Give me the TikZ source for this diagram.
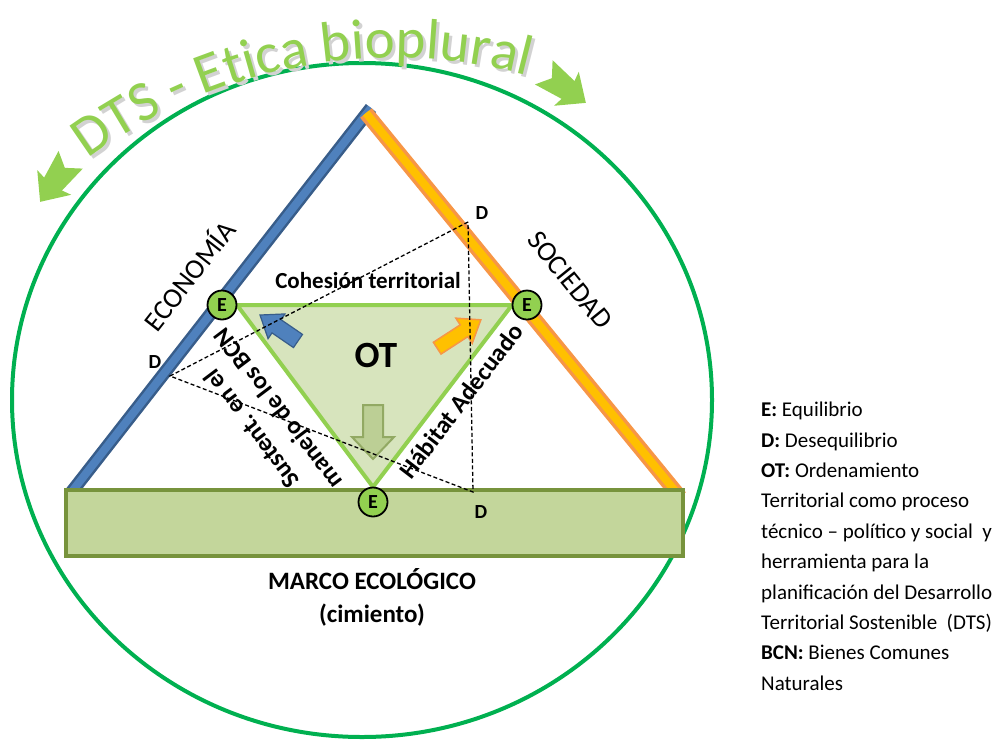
\documentclass[tikz,border=0pt]{standalone}
\usepackage{fontspec}
\setmainfont{Carlito}
\usetikzlibrary{decorations.text}

\definecolor{ringgreen}{HTML}{00B050}
\definecolor{titlegreen}{HTML}{92D050}
\definecolor{barblue}{HTML}{4F81BD}
\definecolor{bluedark}{HTML}{385D8A}
\definecolor{barorange}{HTML}{FFC000}
\definecolor{orangedark}{HTML}{F79646}
\definecolor{basefill}{HTML}{C3D69B}
\definecolor{basedraw}{HTML}{77933C}
\definecolor{trifill}{HTML}{D7E4BD}

\tikzset{
  elabel/.style={circle, draw=black, line width=1.8pt, fill=titlegreen, minimum size=29pt, inner sep=0pt, font=\fontsize{20}{20}\selectfont\bfseries},
  dlabel/.style={font=\fontsize{20}{20}\selectfont\bfseries, inner sep=0pt},
  axislabel/.style={font=\fontsize{28}{28}\selectfont, inner sep=0pt},
  sidelabel/.style={font=\fontsize{25}{33}\selectfont\bfseries, align=center, inner sep=0pt},
  legend/.style={font=\fontsize{21}{30.4}\selectfont, align=left, inner sep=0pt},
  dashline/.style={black, line width=1.3pt, dash pattern=on 4pt off 2.5pt},
  notcharrow/.pic={\fill[titlegreen] (27,0)--(3,-21)--(5,-11)--(-25,-15)--(-15,0)--(-25,15)--(5,11)--(3,21)--cycle;}
}

\begin{document}
\begin{tikzpicture}[x=1pt,y=-1pt]
\useasboundingbox (0,0) rectangle (1000,742);

%ring
\draw[ringgreen, line width=4pt] (362,400) ellipse [x radius=350, y radius=337];

%title
\path[decorate, decoration={text along path, text align=center,
  text={|\fontsize{57}{57}\selectfont\color{gray!35}|DTS -{\ }Etica bioplural}}]
  (398,579) ++(-131:518) arc[start angle=-131, end angle=-70.6, radius=518];
\path[decorate, decoration={text along path, text align=center,
  text={|\fontsize{57}{57}\selectfont\color{titlegreen}|DTS -{\ }Etica bioplural}}]
  (395,576) ++(-131:518) arc[start angle=-131, end angle=-70.6, radius=518];

\pic[rotate=234] at (56,180) {notcharrow};
\pic[rotate=-36] at (564,87) {notcharrow};

%bars
\draw[bluedark, line width=13pt] (70,494)--(371,108);
\draw[barblue, line width=8pt] (70,494)--(371,108);
\draw[orangedark, line width=15pt] (366,113)--(680,497);
\draw[barorange, line width=8pt] (366,113)--(680,497);

%base
\draw[basedraw, fill=basefill, line width=4pt] (66,490) rectangle (683,556);
\node[sidelabel] (marco) at (372,597) {MARCO ECOLÓGICO\\(cimiento)};

%OT triangle
\coordinate (tL) at (237,305);
\coordinate (tR) at (512,305);
\coordinate (tB) at (373,487);
\draw[titlegreen, fill=trifill, line width=4pt, line join=round] (tL)--(tR)--(tB)--cycle;

%arrows
\begin{scope}[shift={(279,328)}, rotate=145.6]
\draw[bluedark, fill=barblue, line width=1.2pt] (23,0)--(3,15)--(3,8)--(-23,8)--(-23,-8)--(3,-8)--(3,-15)--cycle;
\end{scope}
\begin{scope}[shift={(459,334)}, rotate=33]
\draw[orangedark, fill=barorange, line width=1.5pt] (26,0)--(6,15)--(6,7)--(-26,7)--(-26,-7)--(6,-7)--(6,-15)--cycle;
\end{scope}
\begin{scope}[shift={(373,432)}, rotate=-90]
\draw[basedraw!80, fill=basefill!80!basedraw, fill opacity=0.75, line width=2pt] (27,0)--(5,21)--(5,10)--(-27,10)--(-27,-10)--(5,-10)--(5,-21)--cycle;
\end{scope}

%D
\coordinate (dT) at (468,222);
\coordinate (dL) at (170,376);
\coordinate (dB) at (473,492);
\draw[dashline] (dT)--(dL)--(dB)--cycle;
\node[dlabel] (dTl) at (482,213) {D};
\node[dlabel] (dLl) at (155,362) {D};
\node[dlabel] (dBl) at (481,512) {D};

%texts
\node[axislabel, rotate=52] (econ) at (188,275) {ECONOMÍA};
\node[axislabel, rotate=-51] (soc) at (570,280) {SOCIEDAD};
\node[font=\fontsize{23}{23}\selectfont\bfseries, inner sep=0pt] (cohes) at (368,281) {Cohesión territorial};
\node[font=\fontsize{37}{37}\selectfont\bfseries, inner sep=0pt] (ot) at (376,355) {OT};
\node[sidelabel, rotate=127] (bcn) at (266,418) {Sustent. en el\\manejo de los BCN};
\node[sidelabel, rotate=52.5] (habitat) at (461,401) {Hábitat Adecuado};

%E
\node[elabel] (eL) at (222,305) {E};
\node[elabel] (eR) at (527,305) {E};
\node[elabel] (eB) at (373,502) {E};

%legend
\node[legend, anchor=north west] (leg) at (761,402) {\textbf{E:} Equilibrio\\
\textbf{D:} Desequilibrio\\
\textbf{OT:} Ordenamiento\\
Territorial como proceso\\
técnico – político y social {\ }y\\
herramienta para la\\
planificación del Desarrollo\\
Territorial Sostenible {\ }(DTS)\\
\textbf{BCN:} Bienes Comunes\\
Naturales};

\end{tikzpicture}
\end{document}
